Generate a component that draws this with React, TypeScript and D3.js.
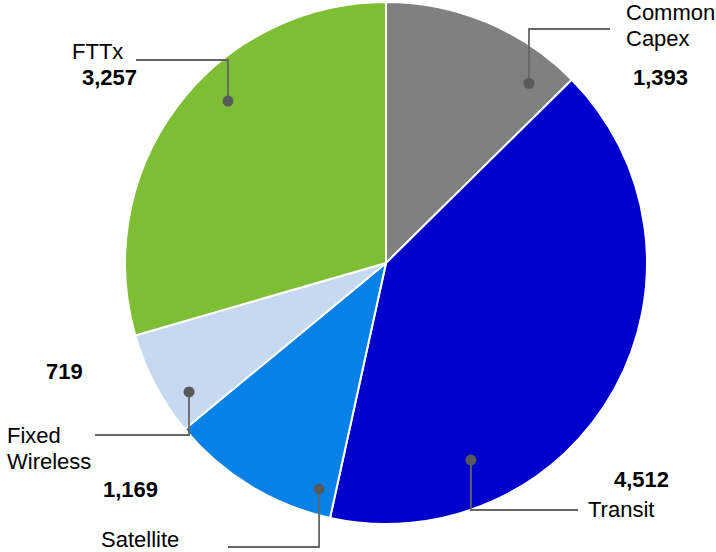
import React from "react";
import * as d3 from "d3";

// slices, clockwise from 12 o'clock
const categories = ["Common Capex", "Transit", "Satellite", "Fixed Wireless", "FTTx"];
const values = [1393, 4512, 1169, 719, 3257];
const colors = ["#808080", "#0000CC", "#0681E8", "#C6D9F1", "#7DBE35"];

// label text split over lines
const nameLines = [["Common", "Capex"], ["Transit"], ["Satellite"], ["Fixed", "Wireless"], ["FTTx"]];

// callout layout: dot (angle deg, radius fraction), elbow y, line end x, text spots
const callouts = [
  { angle: 38.5, r: 0.88, elbowY: 29, endX: 610, nameX: 626, nameY: 20, valX: 633, valY: 85 },
  { angle: 156.7, r: 0.822, elbowY: 510, endX: 578, nameX: 588, nameY: 517, valX: 614, valY: 487 },
  { angle: 196.5, r: 0.903, elbowY: 547, endX: 228, nameX: 101, nameY: 547, valX: 103, valY: 497 },
  { angle: 236.8, r: 0.902, elbowY: 435, endX: 95, nameX: 7, nameY: 443, valX: 46, valY: 379 },
  { angle: 315.7, r: 0.867, elbowY: 60, endX: 136, nameX: 72, nameY: 59, valX: 82, valY: 85 },
];

const width = 716;
const height = 552;
const cx = 386;
const cy = 263;
const radius = 261;

class App extends React.Component {
  render() {
    const pie = d3
      .pie<number>()
      .sort(null)
      .value(d => d);
    const arcs = pie(values);
    const arcGen = d3
      .arc<d3.PieArcDatum<number>>()
      .innerRadius(0)
      .outerRadius(radius);
    const fmt = d3.format(",");

    return (
      <div style={{ position: "absolute", left: 0, top: 0 }}>
        <svg width={width} height={height} style={{ display: "block" }}>
          <g transform={"translate(" + cx + "," + cy + ")"}>
            {arcs.map((a, i) => (
              <path
                key={categories[i]}
                d={arcGen(a) || ""}
                fill={colors[i]}
                stroke="#ffffff"
                strokeWidth={2}
              />
            ))}
          </g>
          {callouts.map((c, i) => {
            const rad = (c.angle * Math.PI) / 180;
            const dx = cx + Math.sin(rad) * radius * c.r;
            const dy = cy - Math.cos(rad) * radius * c.r;
            return (
              <g key={"lbl" + i} fontFamily="'Liberation Sans', Arial, sans-serif">
                <polyline
                  points={dx + "," + dy + " " + dx + "," + c.elbowY + " " + c.endX + "," + c.elbowY}
                  fill="none"
                  stroke="#666666"
                  strokeWidth={1.8}
                />
                <circle cx={dx} cy={dy} r={5.5} fill="#595959" />
                {nameLines[i].map((t, j) => (
                  <text key={t} x={c.nameX} y={c.nameY + j * 26} fontSize={22} fill="#000">
                    {t}
                  </text>
                ))}
                <text x={c.valX} y={c.valY} fontSize={22} fontWeight="bold" fill="#000">
                  {fmt(values[i])}
                </text>
              </g>
            );
          })}
        </svg>
      </div>
    );
  }
}

export default App;
